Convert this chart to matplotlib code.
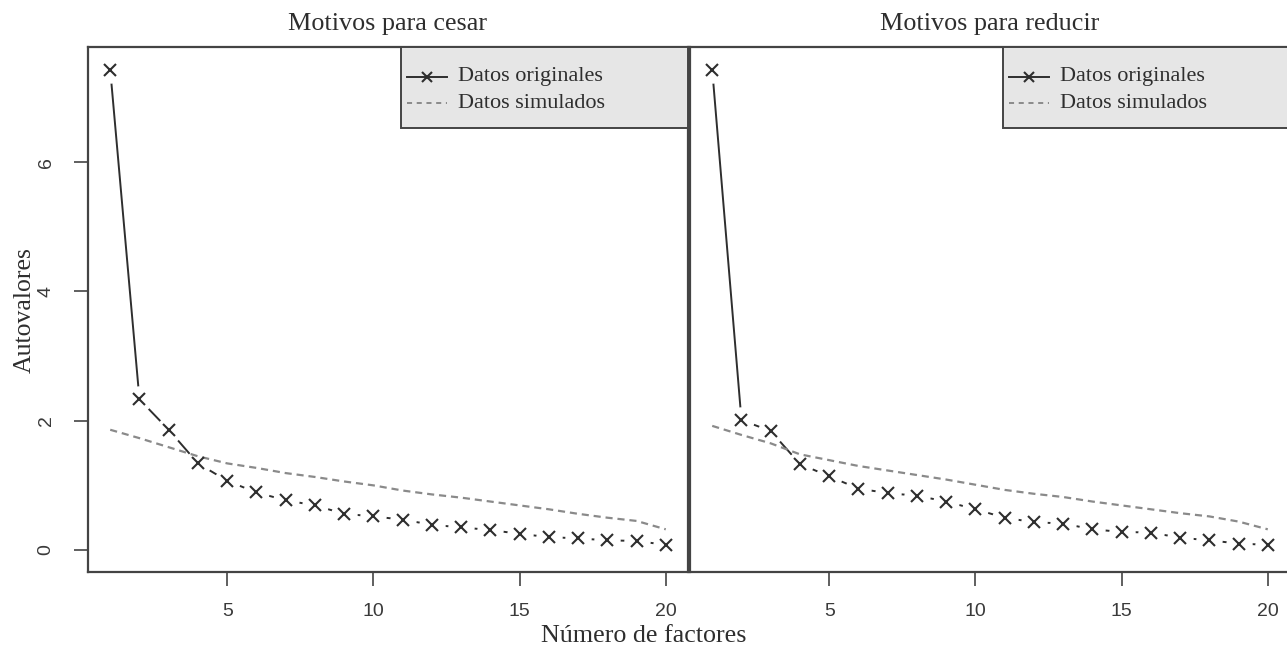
import matplotlib
matplotlib.use("Agg")
import matplotlib.pyplot as plt
from matplotlib.patches import Rectangle
from matplotlib.lines import Line2D

factors = list(range(1, 21))
titles = ["Motivos para cesar", "Motivos para reducir"]
cesar_orig = [7.43, 2.33, 1.86, 1.34, 1.07, 0.89, 0.77, 0.69, 0.56, 0.52,
              0.47, 0.39, 0.35, 0.31, 0.25, 0.20, 0.18, 0.15, 0.14, 0.08]
cesar_sim = [1.86, 1.73, 1.59, 1.45, 1.34, 1.27, 1.19, 1.13, 1.06, 1.00,
             0.92, 0.86, 0.81, 0.75, 0.69, 0.63, 0.56, 0.50, 0.45, 0.32]
reducir_orig = [7.43, 2.01, 1.84, 1.33, 1.14, 0.95, 0.88, 0.84, 0.75, 0.63,
                0.50, 0.43, 0.41, 0.32, 0.28, 0.27, 0.19, 0.15, 0.10, 0.08]
reducir_sim = [1.92, 1.78, 1.65, 1.48, 1.39, 1.30, 1.23, 1.16, 1.09, 1.01,
               0.93, 0.87, 0.82, 0.75, 0.69, 0.63, 0.57, 0.52, 0.44, 0.32]
xticks = [5, 10, 15, 20]
yticks = [0, 2, 4, 6]
legend_labels = ["Datos originales", "Datos simulados"]
xlabel = "Número de factores"
ylabel = "Autovalores"

W, H = 1287, 654
fig = plt.figure(figsize=(W / 100, H / 100), dpi=100)
serif = "Liberation Serif"
sans = "Liberation Sans"
dark = "#2e2e2e"
spine_c = "#444444"
sim_c = "#8a8a8a"

ax_bottom = 1 - 572 / H
ax_top = 1 - 47 / H
ax_h = ax_top - ax_bottom
ax_w = 600 / W
axes = [fig.add_axes([88 / W, ax_bottom, ax_w, ax_h]),
        fig.add_axes([690 / W, ax_bottom, ax_w, ax_h])]

datasets = [(cesar_orig, cesar_sim), (reducir_orig, reducir_sim)]

for i, (ax, (orig, sim)) in enumerate(zip(axes, datasets)):
    ax.set_xlim(0.24, 20.76)
    ax.set_ylim(-0.34, 7.78)
    # original data, R type="b" look: line with gaps around points
    ax.plot(factors, orig, color=dark, lw=1.4, zorder=1)
    ax.plot(factors, orig, ls="none", marker="o", ms=19, mfc="white",
            mec="none", zorder=2)
    ax.plot(factors, sim, color=sim_c, lw=1.6, ls=(0, (3.2, 2.2)), zorder=3)
    ax.plot(factors, orig, ls="none", marker="x", ms=8.5, mew=1.5,
            color=dark, zorder=4)

    ax.set_xticks(xticks)
    ax.set_xticklabels([str(t) for t in xticks], fontfamily=sans,
                       fontsize=14, color="#3a3a3a")
    ax.tick_params(axis="x", length=10, width=1.2, color=spine_c, pad=12)
    if i == 0:
        ax.set_yticks(yticks)
        ax.set_yticklabels([str(t) for t in yticks], fontfamily=sans,
                           fontsize=14, color="#3a3a3a", rotation=90,
                           va="center")
        ax.tick_params(axis="y", length=10, width=1.2, color=spine_c, pad=14)
    else:
        ax.set_yticks([])
    for s in ax.spines.values():
        s.set_color(spine_c)
        s.set_linewidth(1.6)
    ax.set_title(titles[i], fontfamily=serif, fontsize=18.8, color=dark,
                 pad=12)

    # legend box (R style)
    bx0, by0 = 0.5217, 0.8457
    ax.add_patch(Rectangle((bx0, by0), 1 - bx0, 1 - by0,
                           transform=ax.transAxes, facecolor="#e6e6e6",
                           edgecolor=spine_c, lw=1.4, zorder=5))
    r1, r2 = 0.9434, 0.893
    ax.add_line(Line2D([0.532, 0.598], [r1, r1], transform=ax.transAxes,
                       color=dark, lw=1.4, zorder=6))
    ax.add_line(Line2D([0.565], [r1], transform=ax.transAxes, marker="x",
                       ms=7.5, mew=1.5, color=dark, zorder=6))
    ax.add_line(Line2D([0.532, 0.598], [r2, r2], transform=ax.transAxes,
                       color=sim_c, lw=1.4, ls=(0, (2.6, 2.4)), zorder=6))
    ax.text(0.6167, r1, legend_labels[0], transform=ax.transAxes,
            fontfamily=serif, fontsize=16, color=dark, va="center", zorder=7)
    ax.text(0.6167, r2, legend_labels[1], transform=ax.transAxes,
            fontfamily=serif, fontsize=16, color=dark, va="center", zorder=7)

fig.text(0.5, 1 - 636 / H, xlabel, ha="center", va="center",
         fontfamily=serif, fontsize=18.7, color=dark)
fig.text(25 / W, 1 - 310 / H, ylabel, ha="center", va="center",
         rotation=90, fontfamily=serif, fontsize=18.5, color=dark)

fig.savefig("out.png", dpi=100)
